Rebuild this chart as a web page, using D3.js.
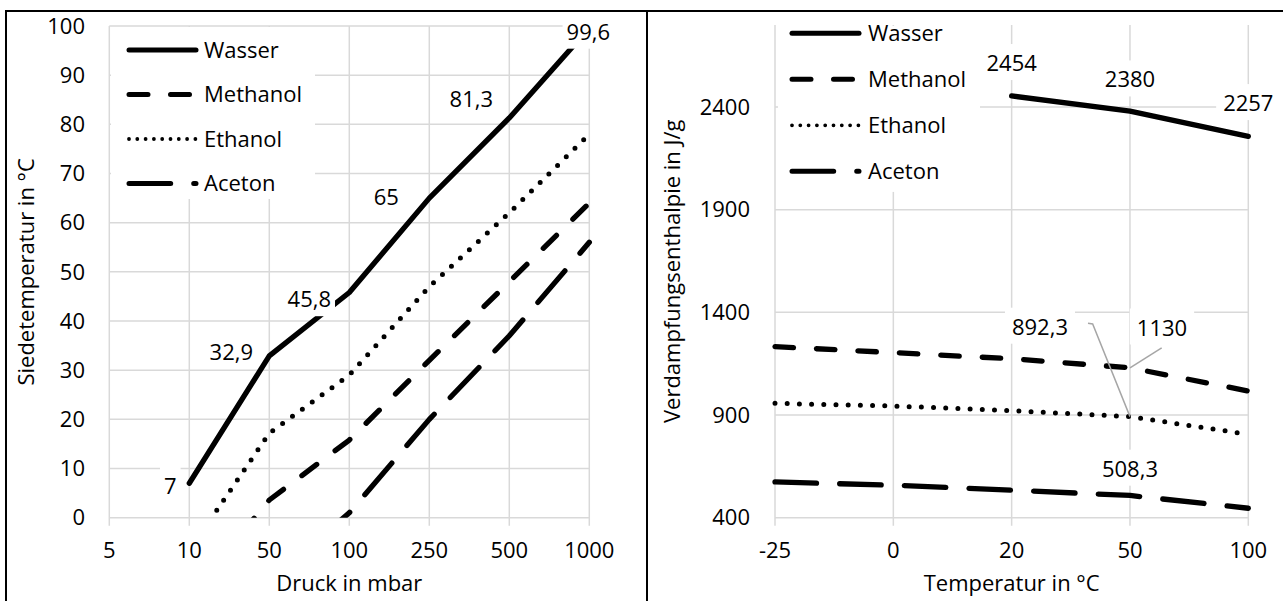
<!DOCTYPE html>
<html>
<head>
<meta charset="utf-8">
<script src="https://cdn.jsdelivr.net/npm/d3@7"></script>
<style>
  body { margin: 0; background: #fff; }
  svg { display: block; font-family: "Open Sans", sans-serif; }
</style>
</head>
<body>
<svg width="1283" height="601"></svg>
<script>
// left chart: boiling temperature vs pressure
var pressures = ['5', '10', '50', '100', '250', '500', '1000'];
var tempTicks = [0, 10, 20, 30, 40, 50, 60, 70, 80, 90, 100];
var boilWasser = [null, 7, 32.9, 45.8, 65, 81.3, 99.6];
var boilMethanol = [null, -16, 3.6, 15.8, 32, 48, 64];
var boilEthanol = [null, -6.7, 17.2, 29, 47, 62, 78];
var boilAceton = [null, null, -13, 1, 20, 37, 56];

// right chart: enthalpy of vaporization vs temperature
var temps = ['-25', '0', '20', '50', '100'];
var enthTicks = [400, 900, 1400, 1900, 2400];
var hvWasser = [null, null, 2454, 2380, 2257];
var hvMethanol = [1233, 1204, 1174, 1130, 1017];
var hvEthanol = [957, 944, 921, 892.3, 806];
var hvAceton = [574, 558, 534, 508.3, 446];

var seriesNames = ['Wasser', 'Methanol', 'Ethanol', 'Aceton'];

var styles = {
  Wasser: { dash: null, width: 5.3, legendDash: null, legendWidth: 5 },
  Methanol: { dash: '18.5 23', width: 5.3, legendDash: '19 22.5', legendWidth: 5 },
  Ethanol: { dash: '0 12.2', width: 5, legendDash: '0 8.3', legendWidth: 3.8 },
  Aceton: { dash: '41.5 23.2', width: 5.3, legendDash: '41.7 23', legendWidth: 5 }
};

var fmt = function(v) { return String(v).replace('.', ','); };

var svg = d3.select('svg');
var FS = 22;
var BASE = 7.7; // baseline shift to centre digits on a y value

// panel frame
svg.append('path').attr('d', 'M6,601V11H1283M647,11V601')
  .attr('fill', 'none').attr('stroke', '#000').attr('stroke-width', 2);

function drawChart(cfg) {
  var g = svg.append('g');
  var x = d3.scalePoint().domain(cfg.cats).range(cfg.xr);
  var y = d3.scaleLinear().domain(cfg.yd).range(cfg.yr);
  var top = cfg.yr[1], bottom = cfg.yr[0];

  // gridlines
  g.selectAll('.hg').data(cfg.ticks).enter().append('line')
    .attr('x1', cfg.xr[0]).attr('x2', cfg.xr[1])
    .attr('y1', function(d) { return y(d); }).attr('y2', function(d) { return y(d); })
    .attr('stroke', '#d9d9d9').attr('stroke-width', 1.5);
  g.selectAll('.vg').data(cfg.cats).enter().append('line')
    .attr('x1', function(d) { return x(d); }).attr('x2', function(d) { return x(d); })
    .attr('y1', top).attr('y2', bottom + 8)
    .attr('stroke', '#d9d9d9').attr('stroke-width', 1.5);

  // tick labels
  g.selectAll('.yl').data(cfg.ticks).enter().append('text')
    .attr('x', cfg.yLabelX).attr('y', function(d) { return y(d) + BASE; })
    .attr('text-anchor', 'end').attr('font-size', FS).text(function(d) { return d; });
  g.selectAll('.xl').data(cfg.cats).enter().append('text')
    .attr('x', function(d) { return x(d); }).attr('y', 558)
    .attr('text-anchor', 'middle').attr('font-size', FS).text(function(d) { return d; });

  // axis titles
  g.append('text').attr('x', (cfg.xr[0] + cfg.xr[1]) / 2).attr('y', 591)
    .attr('text-anchor', 'middle').attr('font-size', FS).text(cfg.xTitle);
  g.append('text').attr('transform', 'translate(' + cfg.yTitleX + ',' + (top + bottom) / 2 + ') rotate(-90)')
    .attr('text-anchor', 'middle').attr('font-size', FS).text(cfg.yTitle);

  // lines, clipped to plot area
  var clipId = 'clip' + cfg.id;
  svg.append('clipPath').attr('id', clipId).append('rect')
    .attr('x', cfg.xr[0] - 10).attr('y', top - 10)
    .attr('width', cfg.xr[1] - cfg.xr[0] + 20).attr('height', bottom - top + 10);
  var line = d3.line()
    .defined(function(d) { return d.v != null; })
    .x(function(d) { return x(d.c); }).y(function(d) { return y(d.v); });
  var lg = g.append('g').attr('clip-path', 'url(#' + clipId + ')');
  seriesNames.forEach(function(name, k) {
    var vals = cfg.series[k].map(function(v, i) { return { c: cfg.cats[i], v: v }; });
    var st = styles[name];
    lg.append('path').datum(vals).attr('d', line)
      .attr('fill', 'none').attr('stroke', '#000')
      .attr('stroke-width', st.width).attr('stroke-linecap', 'round').attr('stroke-linejoin', 'round')
      .attr('stroke-dasharray', st.dash);
  });

  // legend
  var leg = g.append('g');
  leg.append('rect').attr('x', cfg.legend.x0).attr('y', top + 1)
    .attr('width', cfg.legend.w).attr('height', cfg.legend.h).attr('fill', '#fff');
  seriesNames.forEach(function(name, k) {
    var ly = cfg.legend.y0 + k * cfg.legend.step;
    var st = styles[name];
    leg.append('line').attr('x1', cfg.legend.lx).attr('x2', cfg.legend.lx + 67)
      .attr('y1', ly).attr('y2', ly)
      .attr('stroke', '#000').attr('stroke-width', st.legendWidth).attr('stroke-linecap', 'round')
      .attr('stroke-dasharray', st.legendDash);
    leg.append('text').attr('x', cfg.legend.tx).attr('y', ly + BASE)
      .attr('font-size', FS).text(name);
  });

  // data labels with white boxes
  cfg.labels.forEach(function(lb) {
    var v = cfg.series[lb.s][lb.i];
    var px = x(cfg.cats[lb.i]), py = y(v);
    if (lb.leader) {
      var pts = [[px, py]].concat(lb.leader.map(function(p) { return [px + p[0], py + p[1]]; }));
      g.append('path').attr('d', d3.line()(pts))
        .attr('fill', 'none').attr('stroke', '#a6a6a6').attr('stroke-width', 1.5);
    }
    var t = g.append('text').attr('x', px + lb.dx).attr('y', py + lb.dy + BASE)
      .attr('text-anchor', 'middle').attr('font-size', FS).text(fmt(v));
    var bb = t.node().getBBox();
    g.insert('rect', function() { return t.node(); })
      .attr('x', bb.x - cfg.pad).attr('y', bb.y - 3).attr('width', bb.width + 2 * cfg.pad).attr('height', bb.height + 6)
      .attr('fill', '#fff');
  });
}

drawChart({
  id: 'L',
  cats: pressures,
  xr: [109.3, 589.3],
  yd: [0, 100], yr: [517.7, 26],
  ticks: tempTicks,
  series: [boilWasser, boilMethanol, boilEthanol, boilAceton],
  yLabelX: 85,
  xTitle: 'Druck in mbar',
  yTitle: 'Siedetemperatur in °C',
  yTitleX: 34,
  pad: 4,
  legend: { x0: 111, w: 204, h: 172, lx: 129, tx: 204, y0: 50, step: 44.5 },
  labels: [
    { s: 0, i: 1, dx: -19, dy: 3 },
    { s: 0, i: 2, dx: -38, dy: -4 },
    { s: 0, i: 3, dx: -40, dy: 7 },
    { s: 0, i: 4, dx: -43, dy: -1 },
    { s: 0, i: 5, dx: -38, dy: -19 },
    { s: 0, i: 6, dx: -1, dy: 4 }
  ]
});

drawChart({
  id: 'R',
  cats: temps,
  xr: [775, 1248.3],
  yd: [400, 2800], yr: [517.7, 24.9],
  ticks: enthTicks,
  series: [hvWasser, hvMethanol, hvEthanol, hvAceton],
  yLabelX: 750,
  xTitle: 'Temperatur in °C',
  yTitle: 'Verdampfungsenthalpie in J/g',
  yTitleX: 680,
  pad: 7,
  legend: { x0: 778, w: 202, h: 166, lx: 792, tx: 868, y0: 33.3, step: 46 },
  labels: [
    { s: 0, i: 2, dx: 0, dy: -32.6 },
    { s: 0, i: 3, dx: 0, dy: -31.4 },
    { s: 0, i: 4, dx: 0, dy: -33 },
    { s: 1, i: 3, dx: 32, dy: -40, leader: [[31.7, -20]] },
    { s: 2, i: 3, dx: -90, dy: -89.6, leader: [[-37.3, -92.7], [-42, -93.3]] },
    { s: 3, i: 3, dx: 0, dy: -26.5 }
  ]
});
</script>
</body>
</html>
